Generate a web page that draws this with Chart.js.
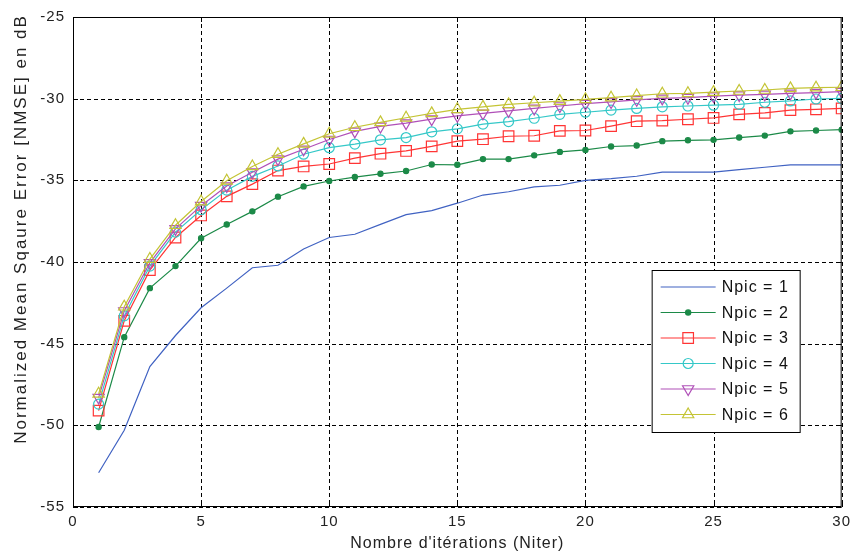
<!DOCTYPE html>
<html>
<head>
<meta charset="utf-8">
<script src="https://cdn.jsdelivr.net/npm/chart.js@4"></script>
<style>
  html, body { margin: 0; padding: 0; background: #fff; }
  #wrap { width: 856px; height: 557px; }
</style>
</head>
<body>
<div id="wrap"><canvas id="nmseChart" width="856" height="557"></canvas></div>
<script>
// Data
const iterations = [1,2,3,4,5,6,7,8,9,10,11,12,13,14,15,16,17,18,19,20,21,22,23,24,25,26,27,28,29,30];
const npic1 = [-52.9,-50.3,-46.4,-44.5,-42.8,-41.6,-40.35,-40.2,-39.2,-38.5,-38.3,-37.7,-37.1,-36.85,-36.4,-35.9,-35.7,-35.4,-35.3,-35.0,-34.9,-34.75,-34.5,-34.5,-34.5,-34.35,-34.2,-34.05,-34.05,-34.05];
const npic2 = [-50.1,-44.6,-41.6,-40.25,-38.55,-37.7,-36.9,-36.0,-35.37,-35.04,-34.8,-34.6,-34.43,-34.03,-34.05,-33.7,-33.7,-33.47,-33.26,-33.14,-32.93,-32.87,-32.6,-32.55,-32.52,-32.38,-32.26,-32.0,-31.95,-31.9];
const npic3 = [-49.1,-43.6,-40.5,-38.5,-37.15,-35.98,-35.23,-34.4,-34.15,-34.0,-33.64,-33.37,-33.2,-32.92,-32.6,-32.48,-32.3,-32.27,-31.97,-31.95,-31.68,-31.38,-31.34,-31.26,-31.18,-30.96,-30.87,-30.7,-30.65,-30.6];
const npic4 = [-48.7,-43.3,-40.25,-38.17,-36.8,-35.6,-34.76,-34.12,-33.4,-33.0,-32.78,-32.52,-32.38,-32.03,-31.85,-31.56,-31.4,-31.2,-30.96,-30.83,-30.7,-30.6,-30.5,-30.45,-30.4,-30.35,-30.22,-30.14,-30.02,-29.98];
const npic5 = [-48.3,-43.0,-40.05,-37.97,-36.55,-35.35,-34.5,-33.7,-33.1,-32.5,-32.0,-31.7,-31.5,-31.25,-31.05,-30.9,-30.75,-30.6,-30.45,-30.3,-30.2,-30.07,-29.98,-29.94,-29.84,-29.78,-29.74,-29.67,-29.63,-29.57];
const npic6 = [-48.07,-42.74,-39.82,-37.75,-36.3,-35.03,-34.15,-33.4,-32.77,-32.15,-31.75,-31.45,-31.17,-30.9,-30.65,-30.5,-30.35,-30.25,-30.15,-30.04,-29.94,-29.81,-29.7,-29.67,-29.6,-29.53,-29.47,-29.37,-29.33,-29.3];
const seriesLabels = ['Npic = 1','Npic = 2','Npic = 3','Npic = 4','Npic = 5','Npic = 6'];
const xTicks = [0,5,10,15,20,25,30];
const yTicks = [-55,-50,-45,-40,-35,-30,-25];
const yTitle = 'Normalized Mean Sqaure Error [NMSE] en dB';
const xTitle = "Nombre d'itérations (Niter)";

const FONT = "'Liberation Sans', Arial, sans-serif";

function pts(vals) {
    return vals.map((v, i) => ({ x: iterations[i], y: v }));
}

// line + marker style for each curve
const styles = [
    { color: '#4062c2', pointStyle: false, radius: 0, fill: 'transparent', rotation: 0 },
    { color: '#1c8a48', pointStyle: 'circle', radius: 2.6, fill: '#1c8a48', rotation: 0 },
    { color: '#ff3535', pointStyle: 'rect', radius: 7.5, fill: 'transparent', rotation: 0 },
    { color: '#35c8c8', pointStyle: 'circle', radius: 5, fill: 'transparent', rotation: 0 },
    { color: '#b050b8', pointStyle: 'triangle', radius: 6.5, fill: 'transparent', rotation: 180 },
    { color: '#c4c435', pointStyle: 'triangle', radius: 6.5, fill: 'transparent', rotation: 0 }
];
const allSeries = [npic1, npic2, npic3, npic4, npic5, npic6];

const datasets = allSeries.map((vals, i) => ({
    label: seriesLabels[i],
    data: pts(vals),
    borderColor: styles[i].color,
    backgroundColor: styles[i].fill,
    borderWidth: 1.2,
    pointStyle: styles[i].pointStyle,
    pointRadius: styles[i].radius,
    pointRotation: styles[i].rotation,
    pointBorderColor: styles[i].color,
    pointBackgroundColor: styles[i].fill,
    pointBorderWidth: 1.2,
    tension: 0,
    order: 5 - i // last curve on top, like the original
}));

// loose letter spacing + dashed grid behind the curves
const gridPlugin = {
    id: 'dashGrid',
    beforeDraw(chart) {
        chart.ctx.letterSpacing = '1px';
    },
    beforeDatasetsDraw(chart) {
        const { ctx, chartArea: a } = chart;
        const xs = chart.scales.x, ys = chart.scales.y;
        ctx.save();
        ctx.strokeStyle = '#000';
        ctx.lineWidth = 1;
        ctx.setLineDash([4, 3]);
        ctx.beginPath();
        xTicks.forEach(t => {
            const px = Math.round(xs.getPixelForValue(t)) + 0.5;
            ctx.moveTo(px, a.top); ctx.lineTo(px, a.bottom);
        });
        yTicks.forEach(t => {
            const py = Math.round(ys.getPixelForValue(t)) + 0.5;
            ctx.moveTo(a.left, py); ctx.lineTo(a.right, py);
        });
        ctx.stroke();
        ctx.restore();
    }
};

// box around plot, y title, legend inside the axes
const framePlugin = {
    id: 'frame',
    afterDatasetsDraw(chart) {
        const { ctx, chartArea: a } = chart;
        ctx.save();
        ctx.strokeStyle = '#000';
        ctx.lineWidth = 1;
        ctx.strokeRect(a.left + 0.5, a.top + 0.5, a.right - a.left - 1, a.bottom - a.top - 1);

        // small inward ticks
        const xs = chart.scales.x, ys = chart.scales.y;
        ctx.beginPath();
        xTicks.forEach(t => {
            const px = Math.round(xs.getPixelForValue(t)) + 0.5;
            ctx.moveTo(px, a.bottom); ctx.lineTo(px, a.bottom - 5);
            ctx.moveTo(px, a.top); ctx.lineTo(px, a.top + 5);
        });
        yTicks.forEach(t => {
            const py = Math.round(ys.getPixelForValue(t)) + 0.5;
            ctx.moveTo(a.left, py); ctx.lineTo(a.left + 5, py);
            ctx.moveTo(a.right, py); ctx.lineTo(a.right - 5, py);
        });
        ctx.stroke();

        // y axis title
        ctx.save();
        ctx.translate(21, 229);
        ctx.rotate(-Math.PI / 2);
        ctx.letterSpacing = '2px';
        ctx.fillStyle = '#222';
        ctx.font = '17px ' + FONT;
        ctx.textAlign = 'center';
        ctx.textBaseline = 'middle';
        ctx.fillText(yTitle, 0, 0);
        ctx.restore();

        // legend
        const bw = 148, bh = 162;
        const bx = a.right - 42 - bw, by = a.bottom - 75 - bh;
        ctx.fillStyle = '#fff';
        ctx.fillRect(bx, by, bw, bh);
        ctx.strokeStyle = '#000';
        ctx.strokeRect(bx + 0.5, by + 0.5, bw, bh);
        ctx.font = '16px ' + FONT;
        ctx.textBaseline = 'middle';
        ctx.textAlign = 'left';
        chart.data.datasets.forEach((ds, i) => {
            const cy = by + 17 + i * 25.5;
            const x1 = bx + 9, x2 = bx + 64;
            ctx.strokeStyle = ds.borderColor;
            ctx.lineWidth = 1.2;
            ctx.beginPath();
            ctx.moveTo(x1, cy); ctx.lineTo(x2, cy);
            ctx.stroke();
            if (ds.pointStyle) {
                ctx.fillStyle = ds.pointBackgroundColor;
                Chart.helpers.drawPoint(ctx, {
                    pointStyle: ds.pointStyle,
                    rotation: ds.pointRotation,
                    radius: ds.pointRadius,
                    borderWidth: 1.2
                }, (x1 + x2) / 2, cy);
            }
            ctx.fillStyle = '#111';
            ctx.fillText(ds.label, bx + 70, cy + 1);
        });
        ctx.restore();
    }
};

const ctx = document.getElementById('nmseChart').getContext('2d');

new Chart(ctx, {
    type: 'line',
    data: { datasets: datasets },
    options: {
        responsive: false,
        animation: false,
        events: [],
        layout: { padding: { top: 15, right: 12, left: 0, bottom: 0 } },
        plugins: {
            legend: { display: false },
            tooltip: { enabled: false }
        },
        scales: {
            x: {
                type: 'linear',
                min: 0, max: 30,
                afterBuildTicks: (s) => { s.ticks = xTicks.map(v => ({ value: v })); },
                afterFit: (s) => { s.height = 50; },
                grid: { display: false, drawTicks: false },
                border: { display: false },
                ticks: { color: '#222', font: { family: FONT, size: 15 }, padding: 6, maxRotation: 0 },
                title: { display: true, text: xTitle, color: '#222', font: { family: FONT, size: 16 }, padding: { top: 0 } }
            },
            y: {
                type: 'linear',
                min: -55, max: -25,
                afterBuildTicks: (s) => { s.ticks = yTicks.map(v => ({ value: v })); },
                afterFit: (s) => { s.width = 73; },
                grid: { display: false, drawTicks: false },
                border: { display: false },
                ticks: { color: '#222', font: { family: FONT, size: 15 }, padding: 8 }
            }
        }
    },
    plugins: [gridPlugin, framePlugin]
});
</script>
</body>
</html>
